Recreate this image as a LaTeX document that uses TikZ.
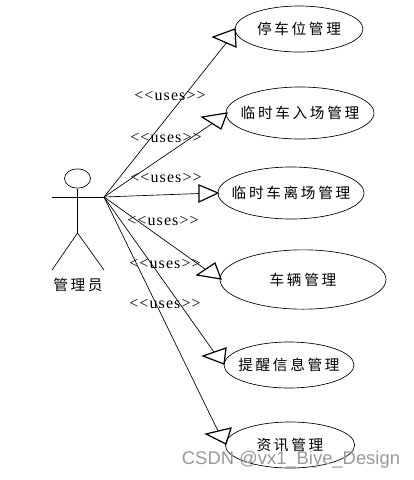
\documentclass[tikz,border=0pt]{standalone}
\usepackage{fontspec}
\usepackage{tikz}
\usetikzlibrary{shapes.geometric}
\newfontfamily\cjk[LetterSpace=18]{Noto Sans CJK SC}
\newfontfamily\usesfont[LetterSpace=7]{Liberation Serif}
\setsansfont{Liberation Sans}

\begin{document}
\begin{tikzpicture}[
    x=0.75pt, y=-0.75pt,
    usecase/.style={draw, ellipse, inner xsep=-25pt, inner ysep=0pt, line width=0.5pt, font=\cjk\fontsize{11}{13}\selectfont},
    head/.style={draw, line width=0.9pt, line join=miter},
    link/.style={line width=0.5pt},
    uses/.style={font=\usesfont\fontsize{12}{14}\selectfont, inner sep=0pt},
  ]
  \useasboundingbox (0,0) rectangle (414,480);
  % les cas
  \node[usecase, minimum width=96pt, minimum height=34.5pt] (parking) at (299,29) {停车位管理};
  \node[usecase, minimum width=111pt, minimum height=39pt] (entry) at (300,113) {临时车入场管理};
  \node[usecase, minimum width=109.5pt, minimum height=39pt] (leave) at (291,193) {临时车离场管理};
  \node[usecase, minimum width=124.5pt, minimum height=44.5pt] (vehicle) at (303,279.5) {车辆管理};
  \node[usecase, minimum width=97.5pt, minimum height=34.5pt] (remind) at (289,365) {提醒信息管理};
  \node[usecase, minimum width=97pt, minimum height=34.5pt] (news) at (290,445) {资讯管理};
  % l'acteur
  \node[draw, ellipse, inner sep=0pt, line width=0.5pt, minimum width=19.5pt, minimum height=14.5pt] (actorhead) at (77.5,178.5) {};
  \coordinate (handl) at (52,197);
  \coordinate (handr) at (104,197);
  \coordinate (hip) at (77.5,233);
  \coordinate (footl) at (52,270);
  \coordinate (footr) at (104,270);
  \draw[link] (actorhead.south) -- (hip);
  \draw[link] (handl) -- (handr);
  \draw[link] (footl) -- (hip) -- (footr);
  \node[font=\cjk\fontsize{11}{13}\selectfont, inner sep=0pt] (actor) at (78,285) {管理员};
  % liens
  \coordinate (end1) at (227,42);
  \coordinate (end2) at (213,123);
  \coordinate (end3) at (199,193.5);
  \coordinate (end4) at (205,269);
  \coordinate (end5) at (214,352);
  \coordinate (end6) at (218,431);
  \foreach \i in {1,...,6}
    \draw[link] (handr) -- (end\i);
  \draw[head] (213,37) -- (235,29) -- (236,47) -- cycle;
  \draw[head] (202,117) -- (227,113) -- (221,129) -- cycle;
  \draw[head] (199,185) -- (218,193) -- (199,202) -- cycle;
  \draw[head] (197,275) -- (215,263) -- (221,279) -- cycle;
  \draw[head] (203,356) -- (226,348) -- (224,364) -- cycle;
  \draw[head] (206,434) -- (231,428) -- (226,444) -- cycle;
  \node[uses] (uses1) at (170,96) {<{}<uses>{}>};
  \node[uses] (uses2) at (166,138) {<{}<uses>{}>};
  \node[uses] (uses3) at (166,178) {<{}<uses>{}>};
  \node[uses] (uses4) at (163,221) {<{}<uses>{}>};
  \node[uses] (uses5) at (165,264) {<{}<uses>{}>};
  \node[uses] (uses6) at (165,304) {<{}<uses>{}>};
  \node[text=black!40, font=\sffamily\fontsize{13.8}{16}\selectfont, inner sep=0pt] (mark) at (291,460) {CSDN @vx1\_Biye\_Design};
\end{tikzpicture}
\end{document}
